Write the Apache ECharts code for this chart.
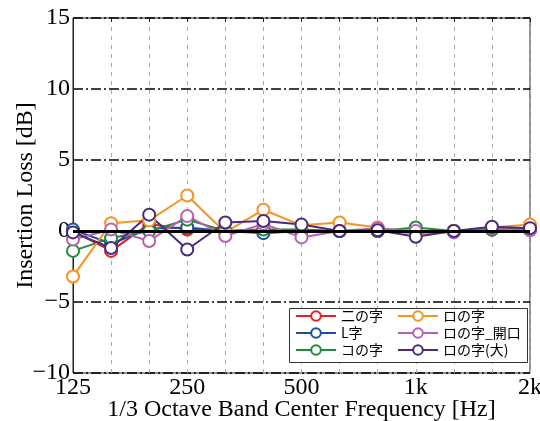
<!DOCTYPE html>
<html>
<head>
<meta charset="utf-8">
<script src="https://cdn.jsdelivr.net/npm/echarts@6/dist/echarts.min.js"></script>
<style>
  html, body { margin: 0; padding: 0; background: #fff; }
  #chart { width: 540px; height: 421px; }
</style>
</head>
<body>
<div id="chart"></div>
<script>
// 1/3 octave band centre frequencies
const bands = ['125', '160', '200', '250', '315', '400', '500', '630', '800', '1k', '1.25k', '1.6k', '2k'];

// Insertion loss [dB] per configuration
const niNoJi    = [0.0, -1.4, 0.5, 0.1, 0.0, 0.1, 0.0, 0.0, 0.0, 0.0, 0.0, 0.1, 0.1];     // 二の字
const lJi       = [0.1, -0.9, 0.15, 0.25, 0.0, -0.15, 0.0, 0.0, 0.0, 0.0, 0.0, 0.1, 0.1]; // L字
const koNoJi    = [-1.4, -0.5, 0.0, 0.8, 0.0, 0.1, 0.1, 0.0, 0.0, 0.25, 0.0, 0.1, 0.1];  // コの字
const roNoJi    = [-3.2, 0.55, 0.75, 2.5, -0.1, 1.5, 0.4, 0.6, 0.25, -0.25, 0.0, 0.25, 0.45]; // ロの字
const roKaiko   = [-0.6, 0.1, -0.7, 1.05, -0.35, 0.5, -0.45, 0.0, 0.2, 0.0, -0.1, 0.2, 0.05]; // ロの字_開口
const roDai     = [-0.1, -1.2, 1.15, -1.3, 0.6, 0.7, 0.45, 0.0, 0.05, -0.4, 0.0, 0.3, 0.2];  // ロの字(大)

const yTicks = [-10, -5, 0, 5, 10, 15];

const seriesDefs = [
  { name: '二の字', data: niNoJi, color: '#ec1c24' },
  { name: 'L字', data: lJi, color: '#1f4e9c' },
  { name: 'コの字', data: koNoJi, color: '#1e8b3c' },
  { name: 'ロの字', data: roNoJi, color: '#f7941d' },
  { name: 'ロの字_開口', data: roKaiko, color: '#b462b4' },
  { name: 'ロの字(大)', data: roDai, color: '#4a2a7c' }
];

const serif = 'Liberation Serif';
const chart = echarts.init(document.getElementById('chart'), null, { renderer: 'canvas' });

const lineSeries = seriesDefs.map(s => ({
  name: s.name,
  type: 'line',
  data: s.data,
  z: 3,
  symbol: 'emptyCircle',
  symbolSize: 12,
  color: s.color,
  lineStyle: { width: 2, color: s.color },
  itemStyle: { color: s.color, borderWidth: 2 },
  emphasis: { disabled: true },
  animation: false
}));

// zero reference line
lineSeries.unshift({
  name: 'zero',
  type: 'line',
  data: [],
  z: 2,
  silent: true,
  animation: false,
  markLine: {
    silent: true,
    symbol: 'none',
    label: { show: false },
    lineStyle: { color: '#000', width: 3, type: 'solid' },
    data: [{ yAxis: 0 }]
  }
});

// two legend columns inside one framed box
const legendCommon = {
  orient: 'vertical',
  top: 308,
  itemWidth: 40, itemHeight: 12, itemGap: 3,
  padding: [1, 0, 0, 0],
  textStyle: { fontFamily: 'Noto Sans CJK JP', fontSize: 14, color: '#000' },
  selectedMode: false,
  z: 5
};

chart.setOption({
  animation: false,
  backgroundColor: '#fff',
  grid: {
    left: 73, right: 10, top: 18, bottom: 48,
    outerBoundsMode: 'none',
    containLabel: false,
    show: true, borderColor: '#222', borderWidth: 1, backgroundColor: 'transparent'
  },
  graphic: [{
    type: 'rect',
    left: 289, top: 308, z: 4,
    shape: { width: 238, height: 54 },
    style: { fill: '#fff', stroke: '#333', lineWidth: 1 }
  }],
  legend: [
    Object.assign({}, legendCommon, { left: 295, data: seriesDefs.slice(0, 3).map(s => s.name) }),
    Object.assign({}, legendCommon, { left: 397, data: seriesDefs.slice(3).map(s => s.name) })
  ],
  xAxis: [{
    type: 'category',
    data: bands,
    boundaryGap: false,
    axisLine: { show: true, lineStyle: { color: '#222', width: 1 } },
    axisTick: { show: true, inside: true, length: 4, interval: 0, lineStyle: { color: '#222' } },
    axisLabel: {
      interval: 2, margin: 3, color: '#000', fontFamily: serif, fontSize: 24
    },
    splitLine: { show: true, interval: 0, lineStyle: { color: '#aaa', width: 1, type: [4, 5] } },
    name: '1/3 Octave Band Center Frequency [Hz]',
    nameLocation: 'middle',
    nameGap: 25,
    nameMoveOverlap: false,
    nameTextStyle: { color: '#000', fontFamily: serif, fontSize: 24 }
  }, {
    type: 'category',
    data: bands,
    boundaryGap: false,
    position: 'top',
    axisLine: { show: false },
    axisTick: { show: true, inside: true, length: 4, interval: 0, lineStyle: { color: '#222' } },
    axisLabel: { show: false },
    splitLine: { show: false }
  }],
  yAxis: {
    type: 'value',
    min: yTicks[0], max: yTicks[yTicks.length - 1], interval: 5,
    axisLine: { show: true, lineStyle: { color: '#222', width: 1 } },
    axisTick: { show: false },
    axisLabel: {
      margin: 3, color: '#000', fontFamily: serif, fontSize: 24,
      formatter: v => (v < 0 ? '\u2212' + Math.abs(v) : String(v))
    },
    splitLine: { show: true, lineStyle: { color: '#000', width: 1.6, type: [10, 3, 2, 3] } },
    name: 'Insertion Loss [dB]',
    nameLocation: 'middle',
    nameGap: 35,
    nameMoveOverlap: false,
    nameTextStyle: { color: '#000', fontFamily: serif, fontSize: 24 }
  },
  series: lineSeries
});
</script>
</body>
</html>
